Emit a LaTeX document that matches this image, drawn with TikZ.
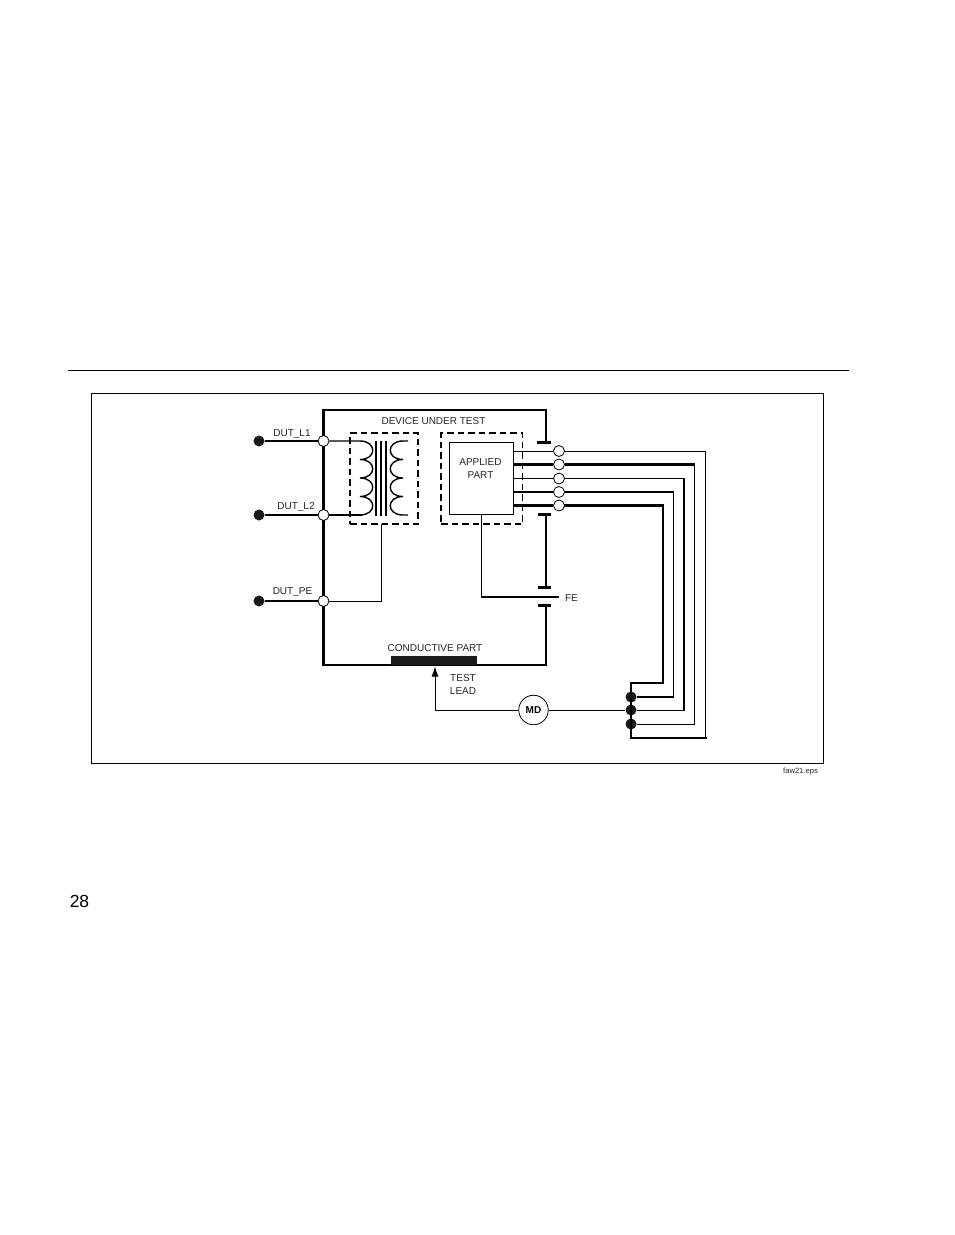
\documentclass[tikz,border=0pt]{standalone}
\usepackage{fontspec}
\setmainfont{Liberation Sans}
\usepackage{tikz}
\usetikzlibrary{arrows.meta}
\tikzset{
	thinline/.style={line width=0.95pt},
	thickline/.style={line width=2.3pt},
	boxline/.style={line width=2.7pt},
	dashbox/.style={line width=1.8pt,dash pattern=on 6.5pt off 4pt},
	opendot/.style={shape=circle,draw=black,line width=0.8pt,fill=white,minimum size=11pt,inner sep=0pt},
	blackdot/.style={shape=circle,fill=black!90,minimum size=11pt,inner sep=0pt},
	lbl/.style={font=\fontsize{10}{11}\selectfont,text=black!85,inner sep=0pt,align=center},
}
\begin{document}
\begin{tikzpicture}[x=1pt,y=-1pt]
	\useasboundingbox (0,0) rectangle (954,1235);
	\fill [white] (0,0) rectangle (954,1235);

	\coordinate (RuleL) at (68,370.5);
	\coordinate (RuleR) at (848.5,370.5);
	\draw [line width=1pt] (RuleL) -- (RuleR);
	\node [shape=rectangle,draw=black,line width=0.7pt,minimum width=731.5pt,minimum height=370.5pt,inner sep=0pt] (Frame) at (457.3,578.3) {};

	\coordinate (CapTop) at (546,442.5);
	\coordinate (CapMidA) at (546,514.5);
	\coordinate (CapMidB) at (546,587.5);
	\coordinate (CapLow) at (546,605.5);
	\draw [boxline] (CapTop) -- (546,410) -- (323.5,410) -- (323.5,665) -- (546,665) -- (CapLow);
	\draw [boxline] (CapMidA) -- (CapMidB);
	\draw [boxline] (537,442.5) -- (551,442.5);
	\draw [boxline] (538,514.5) -- (551,514.5);
	\draw [boxline] (538,587.5) -- (551,587.5);
	\draw [boxline] (538,605.5) -- (551,605.5);

	\node [shape=rectangle,draw=black,dashbox,minimum width=68pt,minimum height=91pt,inner sep=0pt] (Trafo) at (384,478.5) {};
	\node [shape=rectangle,draw=black,dashbox,minimum width=81.5pt,minimum height=91pt,inner sep=0pt] (Shield) at (481.75,478.5) {};
	\node [shape=rectangle,draw=black,line width=1pt,minimum width=64pt,minimum height=72pt,inner sep=0pt] (Applied) at (481,478) {};

	\node [opendot] (L1) at (323.5,441) {};
	\node [opendot] (L2) at (323.5,515) {};
	\node [opendot] (PE) at (323.5,601) {};
	\node [blackdot] (InL1) at (259,441) {};
	\node [blackdot] (InL2) at (259,515) {};
	\node [blackdot] (InPE) at (259,601) {};

	\node [lbl] (NameL1) at (292,434) {DUT\_L1};
	\node [lbl] (NameL2) at (296,507) {DUT\_L2};
	\node [lbl] (NamePE) at (292.5,592) {DUT\_PE};
	\node [lbl] (Title) at (433.5,421) {DEVICE UNDER TEST};
	\node [lbl] (AppliedText) at (480.5,468.5) {APPLIED\\[1.2pt]PART};
	\node [lbl] (FE) at (571.5,598) {FE};
	\node [lbl] (CondText) at (435,648) {CONDUCTIVE PART};
	\node [lbl] (LeadText) at (463,684.5) {TEST\\[2pt]LEAD};
	\node [font=\fontsize{7.6}{8}\selectfont,text=black!85,inner sep=0pt] (File) at (800.5,771.5) {faw21.eps};
	\node [font=\fontsize{17.5}{19}\selectfont,text=black,inner sep=0pt] (Page) at (79.5,901.5) {28};

	\node [shape=rectangle,fill=black!90,minimum width=86pt,minimum height=9pt,inner sep=0pt] (Cond) at (434,660.5) {};
	\node [shape=circle,draw=black,line width=0.8pt,fill=white,minimum size=29.5pt,inner sep=0pt,font=\fontsize{10}{11}\selectfont\bfseries] (MD) at (533.5,710) {MD};

	\draw [thickline] (InL1) -- (L1);
	\draw [thickline] (InL2) -- (L2);
	\draw [thickline] (InPE) -- (PE);
	\draw [thinline] (PE) -- (381.5,601) -- (381.5,524);

	% windings
	\draw [line width=1.4pt] (L1) -- (360,441) .. controls +(17,0) and +(17,0) .. ++(0,18.5) .. controls +(17,0) and +(17,0) .. ++(0,18.5) .. controls +(17,0) and +(17,0) .. ++(0,18.5) .. controls +(17,0) and +(17,0) .. ++(0,18.5);
	\draw [thickline] (L2) -- (362,515);
	\draw [line width=1.4pt] (408,441) -- (403,441) .. controls +(-17,0) and +(-17,0) .. ++(0,18.5) .. controls +(-17,0) and +(-17,0) .. ++(0,18.5) .. controls +(-17,0) and +(-17,0) .. ++(0,18.5) .. controls +(-17,0) and +(-17,0) .. ++(0,18.5) -- (408,515);
	\draw [line width=1.4pt] (376,441) -- (376,515.5);
	\draw [line width=1.4pt] (381,441) -- (381,515.5);
	\draw [line width=1.4pt] (386,441) -- (386,515.5);

	% applied part leads
	\node [opendot] (P1) at (559,451) {};
	\node [opendot] (P2) at (559,464.5) {};
	\node [opendot] (P3) at (559,478.5) {};
	\node [opendot] (P4) at (559,492) {};
	\node [opendot] (P5) at (559,505.5) {};
	\coordinate (A1) at (513,451);
	\coordinate (A2) at (513,464.5);
	\coordinate (A3) at (513,478.5);
	\coordinate (A4) at (513,492);
	\coordinate (A5) at (513,505.5);
	\draw [thinline] (A1) -- (P1);
	\draw [thickline] (A2) -- (P2);
	\draw [thinline] (A3) -- (P3);
	\draw [thickline] (A4) -- (P4);
	\draw [thickline] (A5) -- (P5);

	% bus
	\node [blackdot] (B2) at (631,697) {};
	\node [blackdot] (B3) at (631,710) {};
	\node [blackdot] (B4) at (631,724) {};
	\coordinate (B1) at (631,683);
	\coordinate (B5) at (631,738);
	\draw [thickline,line cap=rect] (663,683) -- (B1) -- (B5) -- (705.5,738);

	\draw [thinline,line cap=rect] (P1) -- (705.5,451) -- (705.5,738);
	\draw [thickline] (P2) -- (694.5,464.5);
	\draw [thinline] (694,464.5) -- (694,724) -- (B4);
	\draw [thinline] (P3) -- (684,478.5);
	\draw [thickline] (684,477.5) -- (684,711);
	\draw [thinline] (684,710) -- (B3);
	\draw [thickline] (P4) -- (673.5,492);
	\draw [thinline] (673,492) -- (673,697);
	\draw [thickline] (674,697) -- (B2);
	\draw [thickline,line cap=rect] (P5) -- (663,505.5) -- (663,683);

	\draw [thinline] (MD) -- (B3);
	\draw [thinline,-{Latex[length=10pt,width=7pt]}] (MD) -- (435,710) -- (435,666.5);
	\draw [thinline] (481,514) -- (481,597);
	\draw [line width=1.6pt] (480.5,597) -- (559,597);
\end{tikzpicture}
\end{document}
